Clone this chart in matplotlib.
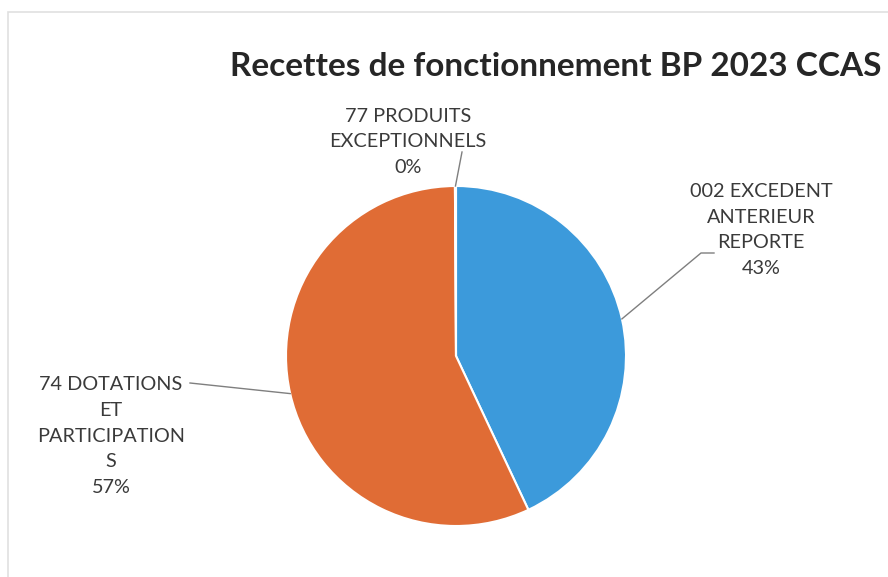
import numpy as np
import matplotlib
matplotlib.use("Agg")
import matplotlib.pyplot as plt
from matplotlib.patches import Rectangle

# Recettes de fonctionnement, part de chaque chapitre (%)
categories = ["002 EXCEDENT\nANTERIEUR\nREPORTE",
              "74 DOTATIONS\nET\nPARTICIPATION\nS",
              "77 PRODUITS\nEXCEPTIONNELS"]
shares = [43.0, 56.9, 0.1]
colors = ["#3C9ADB", "#E06C35", "#A5A5A5"]

plt.rcParams['font.family'] = ['Lato', 'DejaVu Sans']

W, H = 888, 577
CX, CY, R = 456, 356, 170   # pie centre and radius in pixels


def px(x, y):
    'pixel position -> pie data coordinates'
    return ((x - CX) / R, (CY - y) / R)


fig = plt.figure(figsize=(W / 100, H / 100), dpi=100)

'light chart-area border'
fig.patches.append(Rectangle((8 / W, -0.1), 1.2, (H - 12) / H + 0.1,
                             transform=fig.transFigure, fill=False,
                             edgecolor='#E0E0E0', linewidth=1.2))

fig.text(556 / W, 1 - 66 / H, "Recettes de fonctionnement BP 2023 CCAS",
         ha='center', va='center', fontsize=24, fontweight='bold',
         color='#262626')

ax = fig.add_axes([(CX - R) / W, (H - CY - R) / H, 2 * R / W, 2 * R / H])
wedges, _ = ax.pie(shares, colors=colors, startangle=90, counterclock=False,
                   radius=1, wedgeprops=dict(edgecolor='white', linewidth=1.5))
ax.set_xlim(-1, 1)
ax.set_ylim(-1, 1)
ax.set_axis_off()

'label text position and the leader line path (text side) for each slice'
label_pos = [px(761, 230), px(111, 436), px(408, 142)]
leader_pts = [[px(714, 253), px(701, 253)],
              [px(190, 383)],
              [px(462, 152)]]

for w, cat, val, pos, pts in zip(wedges, categories, shares, label_pos, leader_pts):
    ang = np.deg2rad((w.theta1 + w.theta2) / 2)
    edge = (np.cos(ang), np.sin(ang))
    path = pts + [edge]
    ax.plot([p[0] for p in path], [p[1] for p in path], color='#7F7F7F',
            linewidth=1, clip_on=False)
    ax.text(pos[0], pos[1], f"{cat}\n{val:.0f}%", ha='center', va='center',
            fontsize=14.3, color='#3A3A3A', linespacing=1.62, clip_on=False)

fig.savefig("out.png", dpi=100)
